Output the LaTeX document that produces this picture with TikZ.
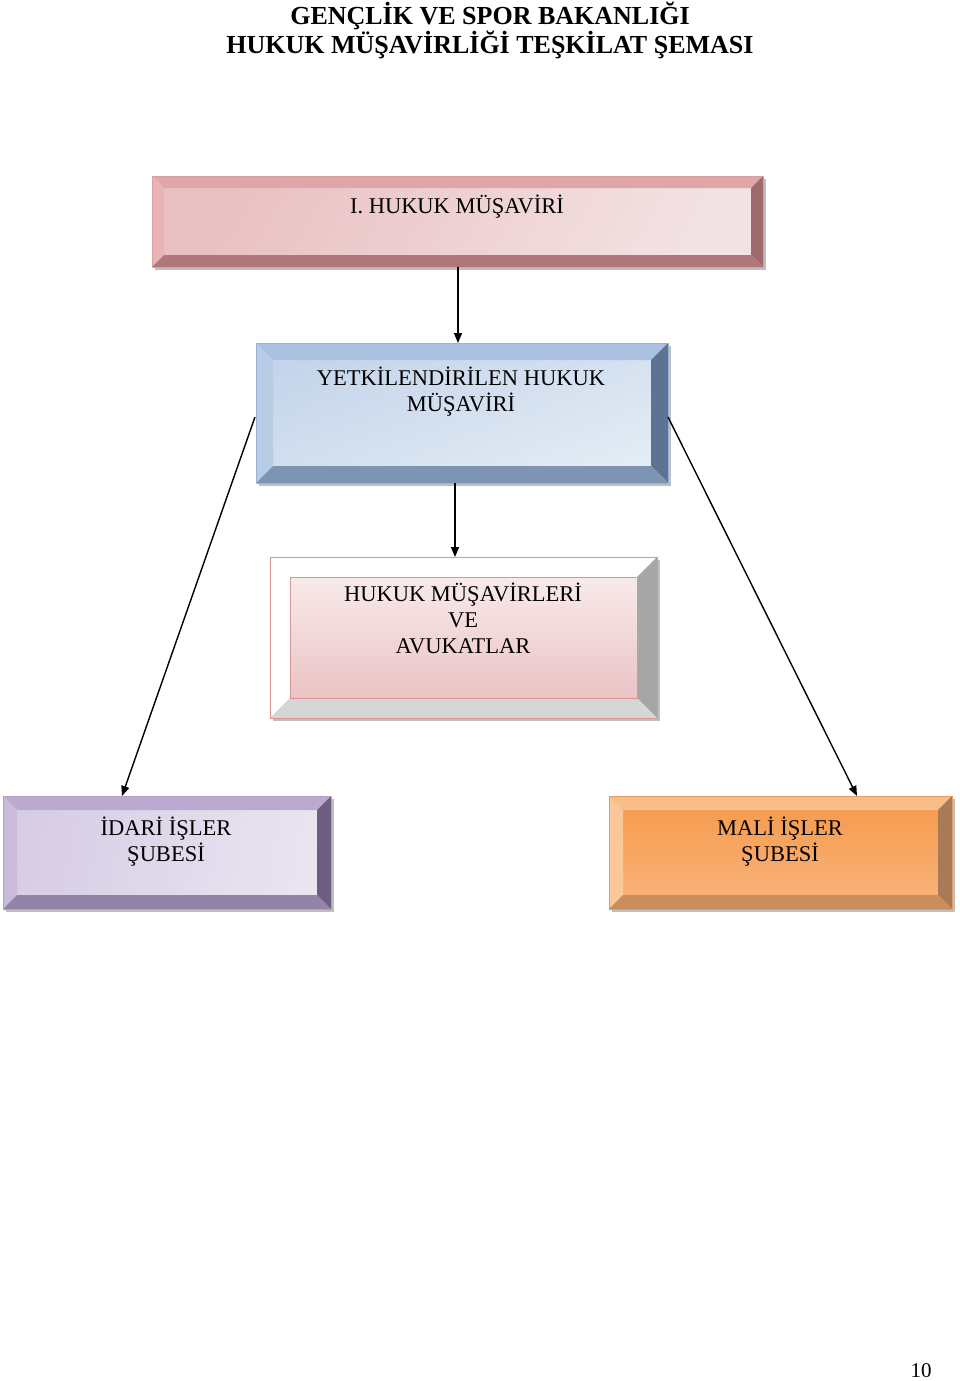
\documentclass[tikz,border=0pt]{standalone}
\usepackage{fontspec}
\setmainfont{Liberation Serif}
\usetikzlibrary{calc,arrows.meta}
\definecolor{rTop}{HTML}{E0A5A7}\definecolor{rLeft}{HTML}{E8B4B6}\definecolor{rRight}{HTML}{9E6A6C}\definecolor{rBot}{HTML}{B07678}
\definecolor{rF1}{HTML}{E9C0C2}\definecolor{rF2}{HTML}{F3E2E3}\definecolor{rBd}{HTML}{D9A0A2}
\definecolor{bTop}{HTML}{A9C0E0}\definecolor{bLeft}{HTML}{B9CCE6}\definecolor{bRight}{HTML}{5C7394}\definecolor{bBot}{HTML}{7E94B5}
\definecolor{bF1}{HTML}{C4D4EA}\definecolor{bF2}{HTML}{E4ECF5}\definecolor{bBd}{HTML}{95B3D7}
\definecolor{pTop}{HTML}{FFFFFF}\definecolor{pLeft}{HTML}{FFFFFF}\definecolor{pRight}{HTML}{A6A6A6}\definecolor{pBot}{HTML}{D6D6D6}
\definecolor{pF1}{HTML}{FBF0F0}\definecolor{pF2}{HTML}{E8BDBF}\definecolor{pBd}{HTML}{D99594}
\definecolor{vTop}{HTML}{BBA9CF}\definecolor{vLeft}{HTML}{C9BBD9}\definecolor{vRight}{HTML}{6E5D82}\definecolor{vBot}{HTML}{9283A8}
\definecolor{vF1}{HTML}{D6CCE4}\definecolor{vF2}{HTML}{EAE5F1}\definecolor{vBd}{HTML}{B2A1C7}
\definecolor{oTop}{HTML}{F8BE8A}\definecolor{oLeft}{HTML}{F9C79A}\definecolor{oRight}{HTML}{A87A57}\definecolor{oBot}{HTML}{C98E5C}
\definecolor{oF1}{HTML}{F5994A}\definecolor{oF2}{HTML}{F9B57C}\definecolor{oBd}{HTML}{E59C5E}
\newcommand\bevelbox[7]{% name, bevel, top, left, right, bottom, border
 \fill[#3] (#1.north west) -- (#1.north east) -- ($(#1.north east)+(-#2,#2)$) -- ($(#1.north west)+(#2,#2)$) -- cycle;
 \fill[#4] (#1.north west) -- ($(#1.north west)+(#2,#2)$) -- ($(#1.south west)+(#2,-#2)$) -- (#1.south west) -- cycle;
 \fill[#5] (#1.north east) -- (#1.south east) -- ($(#1.south east)+(-#2,-#2)$) -- ($(#1.north east)+(-#2,#2)$) -- cycle;
 \fill[#6] (#1.south west) -- (#1.south east) -- ($(#1.south east)+(-#2,-#2)$) -- ($(#1.south west)+(#2,-#2)$) -- cycle;
 \draw[#7,line width=0.8pt] (#1.north west) rectangle (#1.south east);
}
\tikzset{
 box/.style={rectangle,inner sep=0pt,outer sep=0pt},
 shadowbox/.style={fill=black!25},
 lbl/.style={font=\fontsize{22.5}{26}\selectfont,align=center,inner sep=0pt,anchor=north},
 arr/.style={-{Triangle[length=10pt,width=8pt]},line width=1.4pt,black}
}
\begin{document}
\begin{tikzpicture}[x=1pt,y=-1pt]
\useasboundingbox (0,0) rectangle (960,1381);
\node[font=\bfseries\fontsize{26}{29}\selectfont,align=center,anchor=north,inner sep=0pt] (title) at (490,2) {GENÇLİK VE SPOR BAKANLIĞI\\HUKUK MÜŞAVİRLİĞİ TEŞKİLAT ŞEMASI};
% shadows
\fill[shadowbox] (155,179) rectangle (766,270);
\fill[shadowbox] (259,346) rectangle (671,486);
\fill[shadowbox] (273,560) rectangle (660,721);
\fill[shadowbox] (6,799) rectangle (334,912);
\fill[shadowbox] (612,799) rectangle (955,912);
% boxes
\node[box,minimum width=611pt,minimum height=91pt,shading=axis,left color=rF1,right color=rF2,shading angle=60] (r) at (457.5,221.5) {};
\bevelbox{r}{12}{rTop}{rLeft}{rRight}{rBot}{rBd}
\node[box,minimum width=412pt,minimum height=140pt,shading=axis,top color=bF1,bottom color=bF2,shading angle=20] (b) at (462,413) {};
\bevelbox{b}{17}{bTop}{bLeft}{bRight}{bBot}{bBd}
\node[box,minimum width=387pt,minimum height=161pt,top color=pF1,bottom color=pF2] (p) at (463.5,637.5) {};
\bevelbox{p}{20}{pTop}{pLeft}{pRight}{pBot}{pBd}
\draw[pBd,line width=0.8pt] ($(p.north west)+(20,20)$) rectangle ($(p.south east)+(-20,-20)$);
\node[box,minimum width=328pt,minimum height=113pt,shading=axis,left color=vF1,right color=vF2,shading angle=80] (v) at (167,852.5) {};
\bevelbox{v}{14}{vTop}{vLeft}{vRight}{vBot}{vBd}
\node[box,minimum width=343pt,minimum height=113pt,top color=oF1,bottom color=oF2] (o) at (780.5,852.5) {};
\bevelbox{o}{14}{oTop}{oLeft}{oRight}{oBot}{oBd}
% labels
\node[lbl] (rt) at (457,195) {I. HUKUK MÜŞAVİRİ};
\node[lbl] (bt) at (461,367) {YETKİLENDİRİLEN HUKUK\\MÜŞAVİRİ};
\node[lbl] (pt) at (463,583) {HUKUK MÜŞAVİRLERİ\\VE\\AVUKATLAR};
\node[lbl] (vt) at (166,817) {İDARİ İŞLER\\ŞUBESİ};
\node[lbl] (ot) at (780,817) {MALİ İŞLER\\ŞUBESİ};
% connectors
\coordinate (c1) at ($(r.south)+(0.5,0)$);
\draw[arr] (c1) -- (c1 |- b.north);
\coordinate (c2) at ($(b.south)+(-7,0)$);
\draw[arr] (c2) -- (c2 |- p.north);
\coordinate (c3) at ($(b.west)+(-1,4)$);
\draw[arr] (c3) -- ($(v.north)+(-45,0)$);
\coordinate (c4) at ($(b.east)+(0,4)$);
\draw[arr] (c4) -- ($(o.north)+(76.5,0)$);
\node[font=\fontsize{21}{24}\selectfont,anchor=center,inner sep=0pt] (pg) at (921,1371) {10};
\end{tikzpicture}
\end{document}
